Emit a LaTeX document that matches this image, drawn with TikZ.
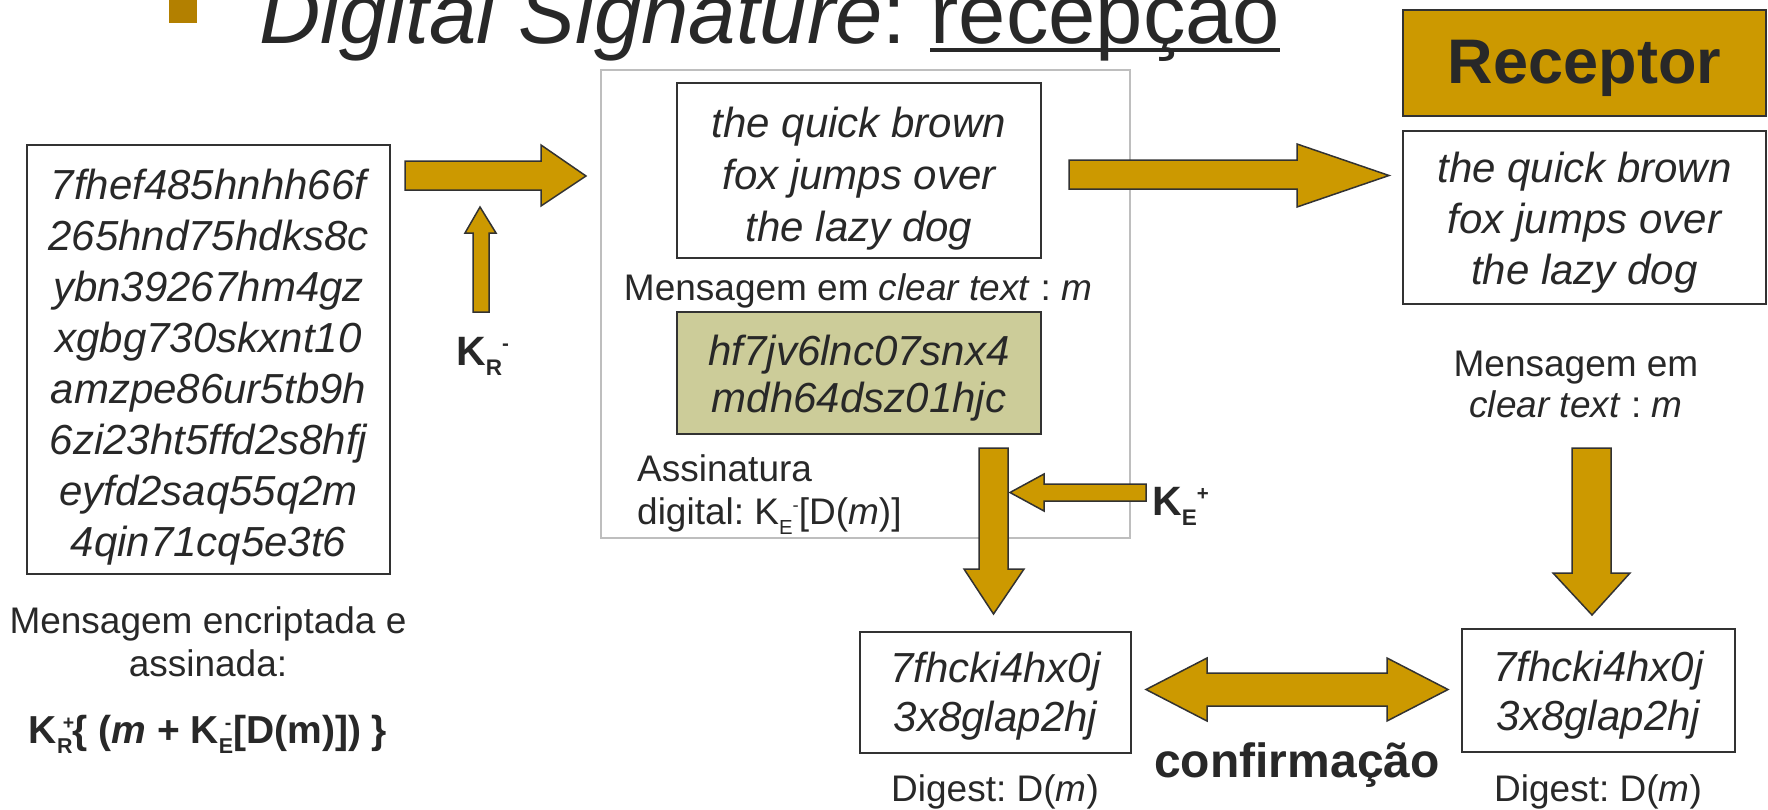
\documentclass[tikz,border=0pt]{standalone}
\usepackage{fontspec}
\usepackage{graphicx}
\setmainfont{Liberation Sans}
\frenchspacing
\definecolor{txt}{RGB}{40,40,40}
\definecolor{gold}{RGB}{204,153,0}
\definecolor{bulletc}{RGB}{179,128,0}
\definecolor{olive}{RGB}{204,204,153}
\definecolor{edge}{RGB}{50,50,50}
\definecolor{lgray}{RGB}{190,190,190}
\newcommand\fs[2]{\fontsize{#1}{#2}\selectfont}
% sub then sup, sequential
\newcommand\kseq[2]{\raisebox{-0.25em}{\scalebox{0.55}{#2}}\raisebox{0.36em}{\scalebox{0.5}{#1}}}
% sup stacked over sub
\newcommand\kstk[2]{\rlap{\kern0.15em\raisebox{0.36em}{\scalebox{0.5}{#1}}}\raisebox{-0.25em}{\scalebox{0.55}{#2}}}
\tikzset{
  box/.style={draw=edge,line width=1.5pt,fill=white,inner sep=0pt},
  itxt/.style={text=txt,align=center,inner sep=0pt,font=\fs{42}{51}\itshape},
  lbl/.style={text=txt,align=center,inner sep=0pt,font=\fs{37}{43}},
  blk/.style={draw=edge,line width=1.5pt,fill=gold,line join=miter},
}
\begin{document}
\begin{tikzpicture}[x=1pt,y=-1pt]
\useasboundingbox (0,0) rectangle (1768,809);
% title
\fill[bulletc] (169,0) rectangle (197,23);
\node[anchor=base west,inner sep=0pt,text=txt,font=\fs{85}{90}] (title) at (259,43)
  {\itshape Digital Signature\upshape:};
\node[anchor=base west,inner sep=0pt,text=txt,font=\fs{85}{90}] (recep) at ([xshift=23.6pt]title.base east) {recepção};
\draw[txt,line width=4pt] ([yshift=-7pt]recep.base west) -- ([yshift=-7pt]recep.base east);
% left box
\node[box,minimum width=363pt,minimum height=429pt] (enc) at (208.5,359.5) {};
\node[itxt] (enctxt) at (208.5,367)
  {7fhef485hnhh66f\\265hnd75hdks8c\\ybn39267hm4gz\\xgbg730skxnt10\\amzpe86ur5tb9h\\6zi23ht5ffd2s8hfj\\eyfd2saq55q2m\\4qin71cq5e3t6};
\node[lbl] (enclbl) at (208,642) {Mensagem encriptada e\\assinada:};
\node[lbl,font=\fs{39}{43}\bfseries] (formula) at (208,734)
  {K\kstk{+}{R}\{ (\textit{m} + K\kstk{-}{E}[D(m)]) \}};
% middle gray box
\node[draw=lgray,line width=1.2pt,minimum width=529pt,minimum height=468pt,inner sep=0pt] (mid) at (865.5,304) {};
\node[box,minimum width=364pt,minimum height=175pt] (msg) at (859,170.5) {};
\node[itxt,font=\fs{42}{52}\itshape] (msgtxt) at (859,179) {the quick brown\\fox jumps over\\the lazy dog};
\node[lbl] (msglbl) at (858,291) {Mensagem em \textit{clear text} : \textit{m}};
\node[box,fill=olive,minimum width=364pt,minimum height=122pt] (sig) at (859,373) {};
\node[itxt,font=\fs{42}{47}\itshape] (sigtxt) at (859,378) {hf7jv6lnc07snx4\\mdh64dsz01hjc};
\node[lbl,anchor=west,align=left] (siglbl) at (637,494.5)
  {Assinatura\\digital: K\kseq{-}{E}[D(\textit{m})]};
% receptor
\node[box,fill=gold,minimum width=363pt,minimum height=106pt] (rec) at (1584.5,63) {};
\node[text=txt,inner sep=0pt,font=\fs{63}{70}\bfseries] (rectxt) at (1584.5,68) {Receptor};
\node[box,minimum width=363pt,minimum height=173pt] (rmsg) at (1584.5,217.5) {};
\node[itxt] (rmsgtxt) at (1584.5,223) {the quick brown\\fox jumps over\\the lazy dog};
\node[lbl,font=\fs{37}{41}] (rmsglbl) at (1576,384) {Mensagem em\\\textit{clear text} : \textit{m}};
% digests
\node[box,minimum width=271pt,minimum height=121pt] (dg1) at (995.5,692.5) {};
\node[itxt,font=\fs{42}{48.5}\itshape] (dg1txt) at (995.5,696) {7fhcki4hx0j\\3x8glap2hj};
\node[box,minimum width=273pt,minimum height=123pt] (dg2) at (1598.5,690.5) {};
\node[itxt,font=\fs{42}{48.5}\itshape] (dg2txt) at (1598.5,695) {7fhcki4hx0j\\3x8glap2hj};
\node[lbl] (dg1lbl) at (995,792) {Digest: D(\textit{m})};
\node[lbl] (dg2lbl) at (1598,792) {Digest: D(\textit{m})};
\node[lbl,font=\fs{48}{52}\bfseries] (conf) at (1297,765) {confirmação};
% key labels
\node[anchor=base west,text=txt,inner sep=0pt,font=\fs{41}{45}\bfseries] (kr) at (456,365) {K\kseq{-}{R}};
\node[anchor=base west,text=txt,inner sep=0pt,font=\fs{41}{45}\bfseries] (ke) at (1152,515) {K\kseq{+}{E}};
% block arrows
\draw[blk] (405,161) -- (541,161) -- (541,145) -- (586,176) -- (541,206) -- (541,190) -- (405,190) -- cycle;
\draw[blk] (473,312) -- (473,233) -- (465,233) -- (480,207) -- (496,233) -- (489,233) -- (489,312) -- cycle;
\draw[blk] (1069,160) -- (1297,160) -- (1297,144) -- (1389,175.5) -- (1297,207) -- (1297,189) -- (1069,189) -- cycle;
\draw[blk] (979,448) -- (1008,448) -- (1008,569) -- (1024,569) -- (993.5,614) -- (964,569) -- (979,569) -- cycle;
\draw[blk] (1146,484) -- (1044,484) -- (1044,474) -- (1010,492.5) -- (1044,511) -- (1044,501) -- (1146,501) -- cycle;
\draw[blk] (1572,448) -- (1611,448) -- (1611,573) -- (1630,573) -- (1592,615) -- (1553,573) -- (1572,573) -- cycle;
\draw[blk] (1146,689.5) -- (1207,658) -- (1207,673) -- (1387,673) -- (1387,658) -- (1448,689.5) -- (1387,721) -- (1387,706) -- (1207,706) -- (1207,721) -- cycle;
\end{tikzpicture}
\end{document}
